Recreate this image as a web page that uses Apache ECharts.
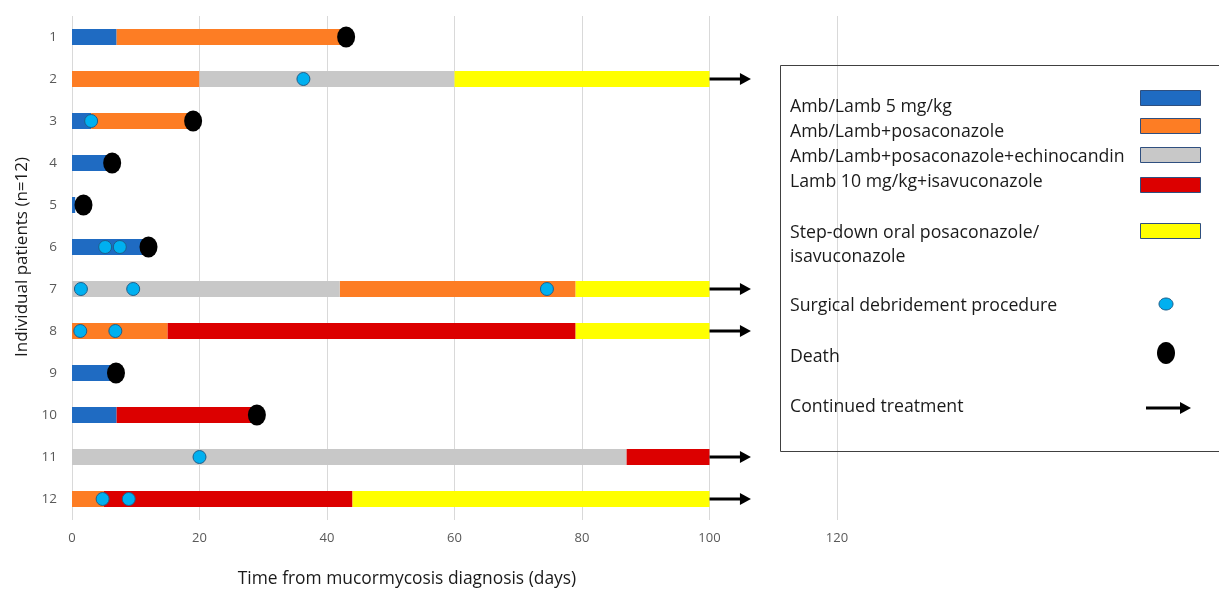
<!DOCTYPE html>
<html><head><meta charset="utf-8">
<script src="https://cdn.jsdelivr.net/npm/echarts@6.0.0/dist/echarts.min.js"></script>
<style>html,body{margin:0;padding:0;background:#fff}#c{width:1219px;height:590px}</style>
</head><body><div id="c"></div>
<script>
const patients = ['1','2','3','4','5','6','7','8','9','10','11','12'];
const xTicks = [0, 20, 40, 60, 80, 100, 120];
const treatmentNames = ['Amb/Lamb 5 mg/kg','Amb/Lamb+posaconazole','Amb/Lamb+posaconazole+echinocandin','Lamb 10 mg/kg+isavuconazole','Step-down oral posaconazole/\nisavuconazole'];
const treatmentColors = ['#1F6BC2','#FD7D24','#C8C8C8','#DC0000','#FFFF00'];
// [patient, start day, end day]
const ambLamb5 = [['1',0,7],['3',0,3],['4',0,6],['5',0,0.5],['6',0,11.5],['9',0,6.5],['10',0,7]];
const ambLambPosa = [['1',7,42.5],['2',0,20],['3',3,18.5],['7',42,79],['8',0,15],['12',0,5]];
const ambLambPosaEchino = [['2',20,60],['7',0,42],['11',0,87]];
const lamb10Isavu = [['8',15,79],['10',7,28.5],['11',87,100],['12',5,44]];
const stepDown = [['2',60,100],['7',79,100],['8',79,100],['12',44,100]];
// [patient, day]
const surgery = [['2',36.3],['3',3],['6',5.2],['6',7.5],['7',1.4],['7',9.6],['7',74.5],['8',1.3],['8',6.8],['11',20],['12',4.8],['12',8.9]];
const deaths = [['1',43],['3',19],['4',6.3],['5',1.8],['6',12],['9',6.9],['10',29]];
// [patient, from day, to day]
const continued = [['2',100,106.5],['7',100,106.5],['8',100,106.5],['11',100,106.5],['12',100,106.5]];

const FONT = '"Open Sans", "Liberation Sans", sans-serif';
const idx = p => patients.indexOf(p);
const segGroups = [ambLamb5, ambLambPosa, ambLambPosaEchino, lamb10Isavu, stepDown];

function segItem(params, api) {
  const y = api.value(0);
  const s = api.coord([api.value(1), y]);
  const e = api.coord([api.value(2), y]);
  const h = 16;
  return {type:'rect', shape:{x:s[0], y:s[1]-h/2, width:e[0]-s[0], height:h}, style:{fill: api.visual('color')}};
}
function arrowItem(params, api) {
  const y = api.value(0);
  const s = api.coord([api.value(1), y]);
  const e = api.coord([api.value(2), y]);
  return {type:'group', children:[
    {type:'line', shape:{x1:s[0], y1:s[1], x2:e[0]-8, y2:e[1]}, style:{stroke:'#000', lineWidth:3}},
    {type:'polygon', shape:{points:[[e[0]-11, e[1]-6],[e[0], e[1]],[e[0]-11, e[1]+6]]}, style:{fill:'#000'}}
  ]};
}

const series = segGroups.map((g, i) => ({
  type:'custom', name: treatmentNames[i], renderItem: segItem,
  itemStyle:{color: treatmentColors[i]},
  encode:{x:[1,2], y:0},
  data: g.map(d => [idx(d[0]), d[1], d[2]]), z: 2
}));
series.push({type:'custom', name:'Continued treatment', renderItem: arrowItem, encode:{x:[1,2], y:0},
  data: continued.map(d => [idx(d[0]), d[1], d[2]]), z:3});
series.push({type:'scatter', name:'Surgical debridement procedure', symbol:'circle', symbolSize:13,
  itemStyle:{color:'#00B0F0', borderColor:'#1F5F8B', borderWidth:1, opacity:1},
  data: surgery.map(d => [d[1], idx(d[0])]), z:4});
series.push({type:'scatter', name:'Death', symbol:'circle', symbolSize:[18,21],
  itemStyle:{color:'#000', opacity:1}, data: deaths.map(d => [d[1], idx(d[0])]), z:5});

// legend drawn as graphic
const lgX = 790, swX = 1140;
const lgTextY = [107, 132, 157, 182, 245];
const lgSwY = [98, 126, 155, 185, 231];
const LG_FONT = '17.7px ' + FONT;
const graphic = [
  {type:'rect', shape:{x:780.5, y:65.5, width:480, height:386}, style:{fill:'none', stroke:'#404040', lineWidth:1}, z:10},
  {type:'text', x:407, y:579, style:{text:'Time from mucormycosis diagnosis (days)', font:'17.4px '+FONT, fill:'#1a1a1a', textAlign:'center', textVerticalAlign:'middle', verticalAlign:'middle'}},
  {type:'text', x:22, y:257, rotation:Math.PI/2, style:{text:'Individual patients (n=12)', font:'17px '+FONT, fill:'#1a1a1a', textAlign:'center', textVerticalAlign:'middle', verticalAlign:'middle'}}
];
treatmentNames.forEach((n, i) => {
  graphic.push({type:'text', x:lgX, y:lgTextY[i], z:11, style:{text:n, font:LG_FONT, lineHeight:24, fill:'#1a1a1a', textAlign:'left', textVerticalAlign:'middle', verticalAlign:'middle'}});
  graphic.push({type:'rect', z:11, shape:{x:swX+0.5, y:lgSwY[i]-7.5, width:60, height:15}, style:{fill:treatmentColors[i], stroke:'#2F4F7F', lineWidth:1}});
});
[['Surgical debridement procedure',306],['Death',357],['Continued treatment',407]].forEach(t => {
  graphic.push({type:'text', x:lgX, y:t[1], z:11, style:{text:t[0], font:LG_FONT, fill:'#1a1a1a', textAlign:'left', textVerticalAlign:'middle', verticalAlign:'middle'}});
});
graphic.push({type:'ellipse', z:11, shape:{cx:1166, cy:304, rx:7, ry:6}, style:{fill:'#00B0F0', stroke:'#1F5F8B', lineWidth:1}});
graphic.push({type:'ellipse', z:11, shape:{cx:1166, cy:353, rx:9, ry:11}, style:{fill:'#000'}});
graphic.push({type:'line', z:11, shape:{x1:1146, y1:408, x2:1182, y2:408}, style:{stroke:'#000', lineWidth:3}});
graphic.push({type:'polygon', z:11, shape:{points:[[1180,402],[1191,408],[1180,414]]}, style:{fill:'#000'}});

const chart = echarts.init(document.getElementById('c'), null, {renderer:'canvas'});
chart.setOption({
  animation:false,
  backgroundColor:'#fff',
  grid:{left:72, right:382, top:16, bottom:70, containLabel:false},
  xAxis:{type:'value', min:xTicks[0], max:xTicks[xTicks.length-1], interval:20,
    axisLine:{show:false}, axisTick:{show:false},
    axisLabel:{color:'#595959', fontSize:13, fontFamily:FONT, margin:12},
    splitLine:{show:true, lineStyle:{color:'#D9D9D9', width:1}}},
  yAxis:{type:'category', data:patients, inverse:true,
    axisLine:{show:false}, axisTick:{show:false},
    axisLabel:{color:'#595959', fontSize:13.5, fontFamily:FONT, margin:15},
    splitLine:{show:false}},
  series: series,
  graphic: graphic
});
</script></body></html>
